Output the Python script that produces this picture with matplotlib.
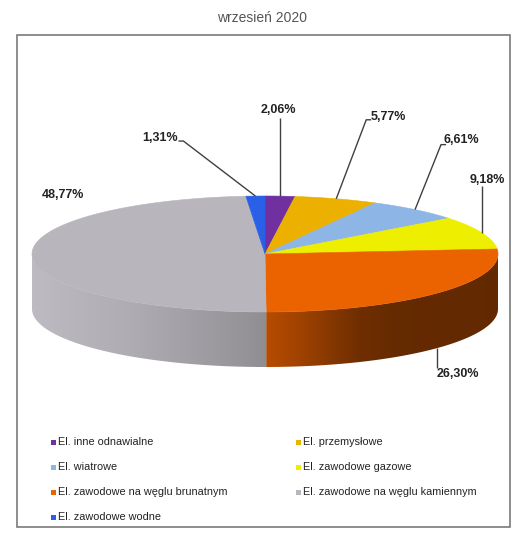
import numpy as np
import matplotlib
matplotlib.use("Agg")
import matplotlib.pyplot as plt
from matplotlib.patches import Polygon, Rectangle

# ---------------- data ----------------
title = "wrzesień 2020"
categories = [
    "El. inne odnawialne",
    "El. przemysłowe",
    "El. wiatrowe",
    "El. zawodowe gazowe",
    "El. zawodowe na węglu brunatnym",
    "El. zawodowe na węglu kamiennym",
    "El. zawodowe wodne",
]
values = [2.06, 5.77, 6.61, 9.18, 26.30, 48.77, 1.31]
colors = ["#7030A0", "#EBB000", "#8DB6E6", "#EEEE00", "#EB6200", "#B8B6BC", "#2A5FE8"]

# ---------------- layout ----------------
W, H = 520, 538
cx, cy = 265, 254          # centre of the top ellipse (px)
rx, ry = 233, 58           # radii of the top ellipse (px)
depth = 55                 # thickness of the pie (px)

# label text centre offsets relative to the anchor on the slice edge, and leader bends
label_cfg = [
    ((-2, -86), [(0, 0), (0, -78)]),
    ((52, -82), [(0, 0), (30, -79), (35, -79)]),
    ((46, -70), [(0, 0), (26, -65), (31, -65)]),
    ((6, -53), [(0, 0), (0, -47)]),
    ((21, 26), [(0, 0), (0, 20)]),
    (None, None),
    ((-95, -58), [(0, 0), (-72, -55), (-77, -55)]),
]
label_fixed_4877 = (63, 195)

fig = plt.figure(figsize=(W / 100, H / 100), dpi=100)
ax = fig.add_axes([0, 0, 1, 1])
ax.axis("off")

def pt(theta_deg, dy=0.0):
    t = np.radians(theta_deg)
    return cx + rx * np.cos(t), cy - ry * np.sin(t) + dy

def shade(u):
    ku = [-1.0, -0.58, -0.15, 0.0, 0.15, 0.28, 0.41, 0.58, 1.0]
    kf = [1.03, 0.95, 0.83, 0.78, 0.68, 0.57, 0.47, 0.43, 0.42]
    return np.interp(u, ku, kf)

def rgb(hexc):
    hexc = hexc.lstrip("#")
    return np.array([int(hexc[i:i + 2], 16) for i in (0, 2, 4)]) / 255.0

total = sum(values)
starts = []
a = 90.0
for v in values:
    starts.append(a)
    a -= v / total * 360.0
ends = [s - v / total * 360.0 for s, v in zip(starts, values)]

# ----- side walls (front, lower half of the ellipse) with horizontal gradient -----
xs_img = np.arange(W) + 0.5
u_img = np.clip((xs_img - cx) / rx, -1, 1)
for s, e, c in zip(starts, ends, colors):
    th = np.linspace(e, s, 600)
    th = th[np.sin(np.radians(th)) <= 1e-9]
    if len(th) < 2:
        continue
    top = [pt(t) for t in th]
    bot = [pt(t, depth) for t in th[::-1]]
    poly = Polygon(top + bot, closed=True, facecolor="none", edgecolor="none")
    ax.add_patch(poly)
    base = rgb(c)
    img = np.clip(base[None, None, :] * shade(u_img)[None, :, None], 0, 1)
    img = np.repeat(img, 2, axis=0)
    im = ax.imshow(img, extent=(0, W, cy + ry + depth + 5, cy - 5), aspect="auto",
                   interpolation="bilinear", zorder=2)
    im.set_clip_path(poly)

# ----- top face -----
for s, e, c in zip(starts, ends, colors):
    th = np.linspace(s, e, max(int(abs(s - e) * 2), 4))
    pts = [(cx, cy)] + [pt(t) for t in th]
    ax.add_patch(Polygon(pts, closed=True, facecolor=c, edgecolor=c, lw=0.4, zorder=3))

# ----- labels -----
def fmt(v):
    return f"{v:.2f}".replace(".", ",") + "%"

for i, (v, s, e) in enumerate(zip(values, starts, ends)):
    mid = 0.5 * (s + e)
    front = np.sin(np.radians(mid)) < 0
    ax_, ay_ = pt(mid, depth if front else 0)
    tpos, path = label_cfg[i]
    if tpos is None:
        tx, ty = label_fixed_4877
    else:
        tx, ty = ax_ + tpos[0], ay_ + tpos[1]
        xs = [ax_ + p[0] for p in path]
        ys = [ay_ + p[1] for p in path]
        ax.plot(xs, ys, color="#404040", lw=1.0, zorder=4, solid_capstyle="butt")
    ax.text(tx, ty, fmt(v), ha="center", va="center", fontsize=9, fontweight="bold",
            family="Liberation Sans", color="#222222", zorder=5)

# ----- frame and title -----
ax.add_patch(Rectangle((17, 35), 493, 492, fill=False, edgecolor="#7a7a7a", lw=1.2, zorder=1))
ax.text(262, 18, title, ha="center", va="center", fontsize=10, family="Liberation Sans",
        color="#555555")

# ----- legend -----
col_x = [53, 298]
row_y0, row_dy = 442, 25
for i, (cat, c) in enumerate(zip(categories, colors)):
    r, k = divmod(i, 2)
    x, y = col_x[k], row_y0 + r * row_dy
    ax.plot([x], [y], marker="s", markersize=3.6, color=c, markeredgewidth=0, zorder=5)
    ax.text(x + 5, y, cat, ha="left", va="center", fontsize=7.85, family="Liberation Sans",
            color="#222222")

ax.set_xlim(0, W)
ax.set_ylim(H, 0)
fig.savefig("out.png", dpi=100)
